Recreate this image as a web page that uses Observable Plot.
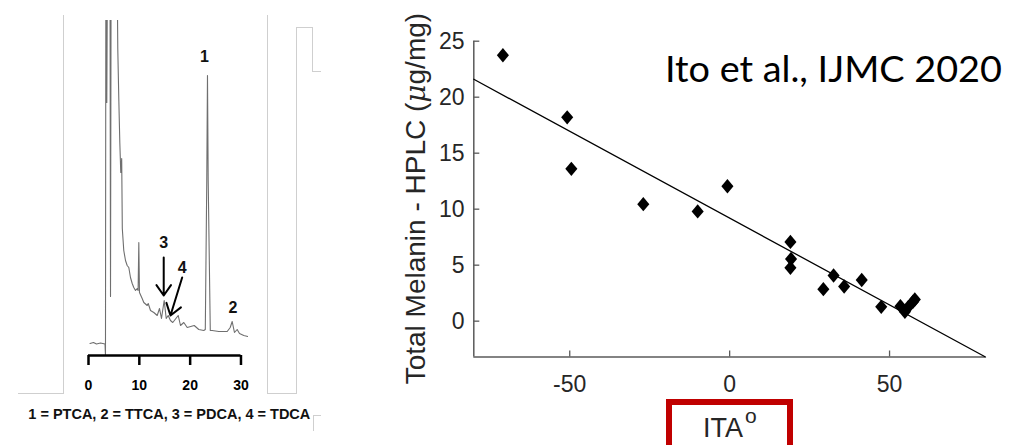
<!DOCTYPE html>
<html><head><meta charset="utf-8">
<script src="https://cdn.jsdelivr.net/npm/d3@7"></script>
<script src="https://cdn.jsdelivr.net/npm/@observablehq/plot@0.6"></script>
<style>
html,body{margin:0;padding:0;background:#fff}
body{width:1033px;height:445px;overflow:hidden;position:relative;font-family:"Liberation Sans",Arial,sans-serif}
.abs{position:absolute}
.edge{position:absolute;border-color:#cfcfcf;border-style:solid;border-width:0;box-sizing:border-box}
</style></head><body>
<div class="edge" style="left:18px;top:15px;width:46px;height:379px;border-right-width:1px;border-bottom-width:1px"></div>
<div class="edge" style="left:267px;top:15px;width:30px;height:379px;border-left-width:1px;border-bottom-width:1px"></div>
<div class="edge" style="left:296px;top:27px;width:17px;height:367px;border-left-width:1px"></div>
<div class="edge" style="left:296px;top:27px;width:17px;height:45px;border-top-width:1px;border-right-width:1px"></div>
<div class="edge" style="left:312px;top:71px;width:9px;height:1px;border-top-width:1px"></div>
<div class="edge" style="left:313px;top:415px;width:8px;height:16px;border-top-width:1px;border-left-width:1px"></div>
<div id="left" class="abs" style="left:0;top:0"></div>
<div id="right" class="abs" style="left:380px;top:0"></div>
<script>
// ---------- HPLC chromatogram (left) ----------
const hplcTime = [0.30,0.98,1.57,2.36,3.25,3.34,3.42,3.60,3.74,4.23,4.33,4.45,5.61,5.76,5.96,6.16,6.35,6.53,6.65,6.94,7.28,7.61,7.93,8.26,8.60,8.91,9.25,9.58,9.76,9.90,10.03,10.56,10.88,11.55,11.75,12.20,12.85,13.52,13.97,14.36,14.89,15.29,15.68,16.13,16.58,17.65,18.10,18.75,19.42,20.80,21.70,22.68,22.98,23.27,23.41,23.55,23.96,24.34,25.63,27.29,27.88,28.27,28.72,29.25,29.71,30.55,31.34];
const hplcSignal = [12,13,11.5,12.5,11.5,0,400,253,400,400,59,400,400,307,257,213,183,197,127,105,95,90,88,78,72,68,65,67,65,113,63,57,53,50,52,45,43,40,47,37,55,37,40,35,33,40,30,33,28,30,26,25,26,175,280,175,25,25,24,24,28,34,23,26,22,20,19];
const hplcTicks = [0,10,20,30];
const hplcDomainX = [0,31.5];
const hplcDomainY = [0,335];
const peakNames = ["1","2","3","4"];
const peakLabelTime = [22.82,28.4,14.8,18.43];
const peakLabelSignal = [299,48,113,88];
const arrowFromTime = [14.8,18.43];
const arrowFromSignal = [98,78];
const arrowToTime = [14.8,16.13];
const arrowToSignal = [60,40];
const hplcCaption = "1 = PTCA, 2 = TTCA, 3 = PDCA, 4 = TDCA";

// ---------- Melanin vs ITA (right) ----------
const ita =     [-70.9,-50.8,-49.5,-27.0,-10.0,-0.7,19.0,19.2,19.0,29.3,32.5,35.8,41.3,47.4,53.4,54.8,55.9,57.3,57.9];
const melanin = [23.75,18.2,13.6,10.45,9.8,12.05,7.08,5.55,4.76,2.86,4.08,3.1,3.68,1.28,1.34,0.83,1.28,1.72,1.94];
const fitIta = [-80,80];
const fitMelanin = [21.6,-3.2];
const itaDomain = [-80,80];
const melaninDomain = [-3.2,25];
const itaTicks = [-50,0,50];
const melaninTicks = [0,5,10,15,20,25];
const yTitleParts = ["Total Melanin - HPLC (", "\u03bc", "g/mg)"];
const xTitle = "ITA";
const xTitleSup = "o";
const citation = "Ito et al., IJMC 2020";

const hplc = hplcTime.map((t,i)=>({t, s:hplcSignal[i]}));
const peaks = peakNames.map((n,i)=>({n, t:peakLabelTime[i], s:peakLabelSignal[i]}));
const arrows = arrowFromTime.map((t,i)=>({t1:t, s1:arrowFromSignal[i], t2:arrowToTime[i], s2:arrowToSignal[i]}));
const plainFmt = d => String(d);

const left = Plot.plot({
  width:340, height:445, marginLeft:88, marginRight:91.9, marginTop:20, marginBottom:90,
  x:{domain:hplcDomainX}, y:{domain:hplcDomainY, axis:null},
  style:{fontFamily:"Liberation Sans, Arial, sans-serif", background:"transparent", color:"#000"},
  marks:[
    Plot.line(hplc,{x:"t", y:"s", stroke:"#6f6f6f", strokeWidth:1.1, clip:"frame"}),
    Plot.ruleY([hplcDomainY[0]],{x1:hplcTicks[0], x2:hplcTicks[hplcTicks.length-1], stroke:"#000", strokeWidth:2.5}),
    Plot.axisX(hplcTicks,{tickSize:10, tickPadding:15, strokeWidth:2.5, fontWeight:"bold", fontSize:14, label:null, tickFormat:plainFmt}),
    Plot.text(peaks,{x:"t", y:"s", text:"n", fontWeight:"bold", fontSize:16, fill:"#111"}),
    Plot.arrow(arrows,{x1:"t1", y1:"s1", x2:"t2", y2:"s2", stroke:"#000", strokeWidth:2, headLength:12, headAngle:70, bend:0})
  ]
});
d3.select(left).append("text").attr("x",28.3).attr("y",419).attr("text-anchor","start")
  .attr("font-family","Liberation Sans, Arial, sans-serif").attr("font-weight","bold")
  .attr("font-size",14.5).attr("fill","#111").text(hplcCaption);
document.getElementById("left").append(left);

const pts = ita.map((x,i)=>({x, y:melanin[i]}));
const fit = fitIta.map((x,i)=>({x, y:fitMelanin[i]}));
const diamond = {draw(ctx,size){const r=Math.sqrt(size/Math.PI);const h=r,w=r*0.84;ctx.moveTo(0,-h);ctx.lineTo(w,0);ctx.lineTo(0,h);ctx.lineTo(-w,0);ctx.closePath();}};

const right = Plot.plot({
  width:653, height:445, marginLeft:93.3, marginRight:48, marginTop:40.7, marginBottom:88.5,
  x:{domain:itaDomain}, y:{domain:melaninDomain},
  style:{fontFamily:"Liberation Sans, Arial, sans-serif", background:"transparent", color:"#262626"},
  marks:[
    Plot.ruleX([itaDomain[0]],{stroke:"#5a5a5a", strokeWidth:1.5}),
    Plot.ruleY([melaninDomain[0]],{stroke:"#5a5a5a", strokeWidth:1.5}),
    Plot.axisX(itaTicks,{tickSize:-6, tickPadding:24.5, fontSize:23, stroke:"#5a5a5a", strokeWidth:1.3, label:null, tickFormat:plainFmt}),
    Plot.axisY(melaninTicks,{tickSize:-6, tickPadding:15.3, fontSize:23, stroke:"#5a5a5a", strokeWidth:1.3, label:null, tickFormat:plainFmt}),
    Plot.line(fit,{x:"x", y:"y", stroke:"#000", strokeWidth:1.3}),
    Plot.dot(pts,{x:"x", y:"y", symbol:diamond, r:7.2, fill:"#000", stroke:"none"})
  ]
});
const rs = d3.select(right);
const yt = rs.append("text").attr("transform","translate(45,198.6) rotate(-90)")
  .attr("text-anchor","middle").attr("font-size",28).attr("fill","#262626")
  .attr("font-family","Liberation Sans, Arial, sans-serif");
yt.append("tspan").text(yTitleParts[0]);
yt.append("tspan").attr("font-style","italic").attr("font-family","DejaVu Serif, Liberation Serif, serif").text(yTitleParts[1]);
yt.append("tspan").text(yTitleParts[2]);
rs.append("text").attr("x",285).attr("y",81.7).attr("text-anchor","start").attr("font-family","Lato, 'Open Sans', sans-serif")
  .attr("font-size",37).attr("fill","#000").attr("textLength",337).attr("lengthAdjust","spacingAndGlyphs").text(citation);
rs.append("rect").attr("x",289).attr("y",402).attr("width",121).attr("height",60)
  .attr("fill","none").attr("stroke","#c00000").attr("stroke-width",6);
const xt = rs.append("text").attr("x",323).attr("y",437).attr("text-anchor","start").attr("font-size",27).attr("fill","#262626")
  .attr("font-family","Liberation Sans, Arial, sans-serif");
xt.append("tspan").text(xTitle);
xt.append("tspan").attr("font-size",21).attr("dy",-14).attr("dx",2).text(xTitleSup);
document.getElementById("right").append(right);
</script>
</body></html>
